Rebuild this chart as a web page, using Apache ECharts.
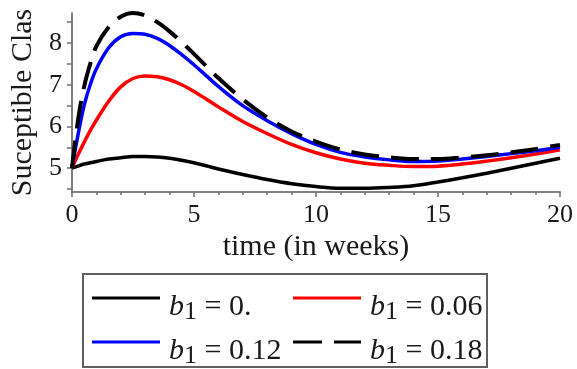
<!DOCTYPE html>
<html>
<head>
<meta charset="utf-8">
<script src="https://cdn.jsdelivr.net/npm/echarts@6/dist/echarts.min.js"></script>
<style>
  html, body { margin: 0; padding: 0; background: #fff; }
  #chart { width: 577px; height: 369px; }
</style>
</head>
<body>
<div id="chart"></div>
<script>
// time points (weeks)
const times = [0, 0.25, 0.5, 0.75, 1, 1.5, 2, 2.5, 3, 3.5, 4, 4.5, 5, 5.5, 6, 7, 8, 9, 10, 11, 12, 13, 14, 15, 16, 17, 18, 19, 20];

// susceptible class for each b1
const s000 = [5.00, 5.05, 5.10, 5.13, 5.16, 5.22, 5.25, 5.28, 5.28, 5.27, 5.24, 5.19, 5.13, 5.06, 4.98, 4.85, 4.73, 4.63, 4.56, 4.52, 4.52, 4.54, 4.58, 4.67, 4.77, 4.88, 5.00, 5.12, 5.24];
const s006 = [5.00, 5.32, 5.62, 5.90, 6.15, 6.60, 6.95, 7.15, 7.21, 7.19, 7.12, 7.00, 6.84, 6.66, 6.47, 6.12, 5.83, 5.57, 5.37, 5.22, 5.12, 5.07, 5.04, 5.05, 5.10, 5.17, 5.25, 5.34, 5.44];
const s012 = [5.00, 5.80, 6.50, 7.00, 7.38, 7.88, 8.15, 8.23, 8.21, 8.11, 7.94, 7.72, 7.48, 7.22, 6.96, 6.50, 6.14, 5.83, 5.57, 5.38, 5.27, 5.20, 5.16, 5.17, 5.22, 5.28, 5.35, 5.42, 5.50];
const s018 = [5.00, 6.15, 6.95, 7.50, 7.92, 8.38, 8.63, 8.72, 8.66, 8.50, 8.28, 8.02, 7.74, 7.45, 7.16, 6.65, 6.22, 5.88, 5.64, 5.45, 5.33, 5.26, 5.22, 5.22, 5.26, 5.31, 5.38, 5.46, 5.56];

const names = ["b1 = 0.", "b1 = 0.06", "b1 = 0.12", "b1 = 0.18"];
const colors = ["#000000", "#ff0000", "#0000ff", "#000000"];
const yLabels = [5, 6, 7, 8];
const yTicks = [4.5, 5, 5.5, 6, 6.5, 7, 7.5, 8, 8.5];

const pairs = vals => vals.map((v, i) => [times[i], v]);

const serif = "Liberation Serif";
const legendRich = {
    i: { fontFamily: serif, fontSize: 30, lineHeight: 30, fontStyle: "italic", color: "#1a1a1a", padding: [19, 0, 0, 4] },
    s: { fontFamily: serif, fontSize: 26, lineHeight: 26, color: "#1a1a1a", padding: [28, 0, 0, 0] },
    t: { fontFamily: serif, fontSize: 30, lineHeight: 30, color: "#1a1a1a", padding: [19, 0, 0, 0] }
};

const solidIcon = "path://M0,0H68V3.2H0Z";
const dashIcon = "path://M0,0H29V3.2H0Z M41,0H68V3.2H41Z";

function legendAt(idx, left, top, icon) {
    return {
        data: [{ name: names[idx], icon: icon, itemStyle: { color: colors[idx], opacity: 1 } }],
        left: left,
        top: top,
        padding: 0,
        itemWidth: 68,
        itemHeight: 3.2,
        selectedMode: false,
        formatter: n => "{i|b}{s|1}{t| " + n.slice(3) + "}",
        textStyle: { rich: legendRich }
    };
}

const chart = echarts.init(document.getElementById("chart"));
chart.setOption({
    animation: false,
    grid: { left: 60, right: 17, top: 13, bottom: 177 },
    xAxis: {
        type: "value",
        min: 0,
        max: 20,
        interval: 5,
        name: "time (in weeks)",
        nameLocation: "middle",
        nameGap: 40,
        nameTextStyle: { fontFamily: serif, fontSize: 30, color: "#1a1a1a" },
        axisLine: { onZero: false, lineStyle: { color: "#808080", width: 2 } },
        axisTick: { length: 5, lineStyle: { color: "#707070", width: 1.5 } },
        minorTick: { show: true, splitNumber: 5, length: 3, lineStyle: { color: "#707070", width: 1.5 } },
        splitLine: { show: false },
        axisLabel: { margin: 10, fontFamily: serif, fontSize: 26, color: "#1a1a1a" }
    },
    yAxis: {
        type: "value",
        min: 4.43,
        max: 8.72,
        name: "Suceptible Clas",
        nameLocation: "middle",
        nameRotate: 90,
        nameGap: 22,
        nameTextStyle: { fontFamily: serif, fontSize: 30, color: "#1a1a1a" },
        axisLine: { show: true, onZero: false, lineStyle: { color: "#808080", width: 2 } },
        axisTick: { show: true, length: 5, customValues: yTicks, lineStyle: { color: "#707070", width: 1.5 } },
        splitLine: { show: false },
        axisLabel: { margin: 10, customValues: yLabels, fontFamily: serif, fontSize: 26, color: "#1a1a1a" }
    },
    legend: [
        legendAt(0, 92, 271, solidIcon),
        legendAt(1, 293, 271, solidIcon),
        legendAt(2, 92, 315, solidIcon),
        legendAt(3, 293, 315, dashIcon)
    ],
    graphic: [{
        type: "rect",
        shape: { x: 83, y: 274, width: 404, height: 93 },
        style: { fill: "none", stroke: "#606060", lineWidth: 2 }
    }],
    series: [
        { name: names[0], type: "line", smooth: 0.35, symbol: "none", data: pairs(s000), lineStyle: { color: colors[0], width: 3.5 }, itemStyle: { color: colors[0] } },
        { name: names[1], type: "line", smooth: 0.35, symbol: "none", data: pairs(s006), lineStyle: { color: colors[1], width: 3.5 }, itemStyle: { color: colors[1] } },
        { name: names[2], type: "line", smooth: 0.35, symbol: "none", data: pairs(s012), lineStyle: { color: colors[2], width: 3.5 }, itemStyle: { color: colors[2] } },
        { name: names[3], type: "line", smooth: 0.35, symbol: "none", data: pairs(s018), lineStyle: { color: colors[3], width: 4, type: [28, 12] }, itemStyle: { color: colors[3] } }
    ]
});
</script>
</body>
</html>
